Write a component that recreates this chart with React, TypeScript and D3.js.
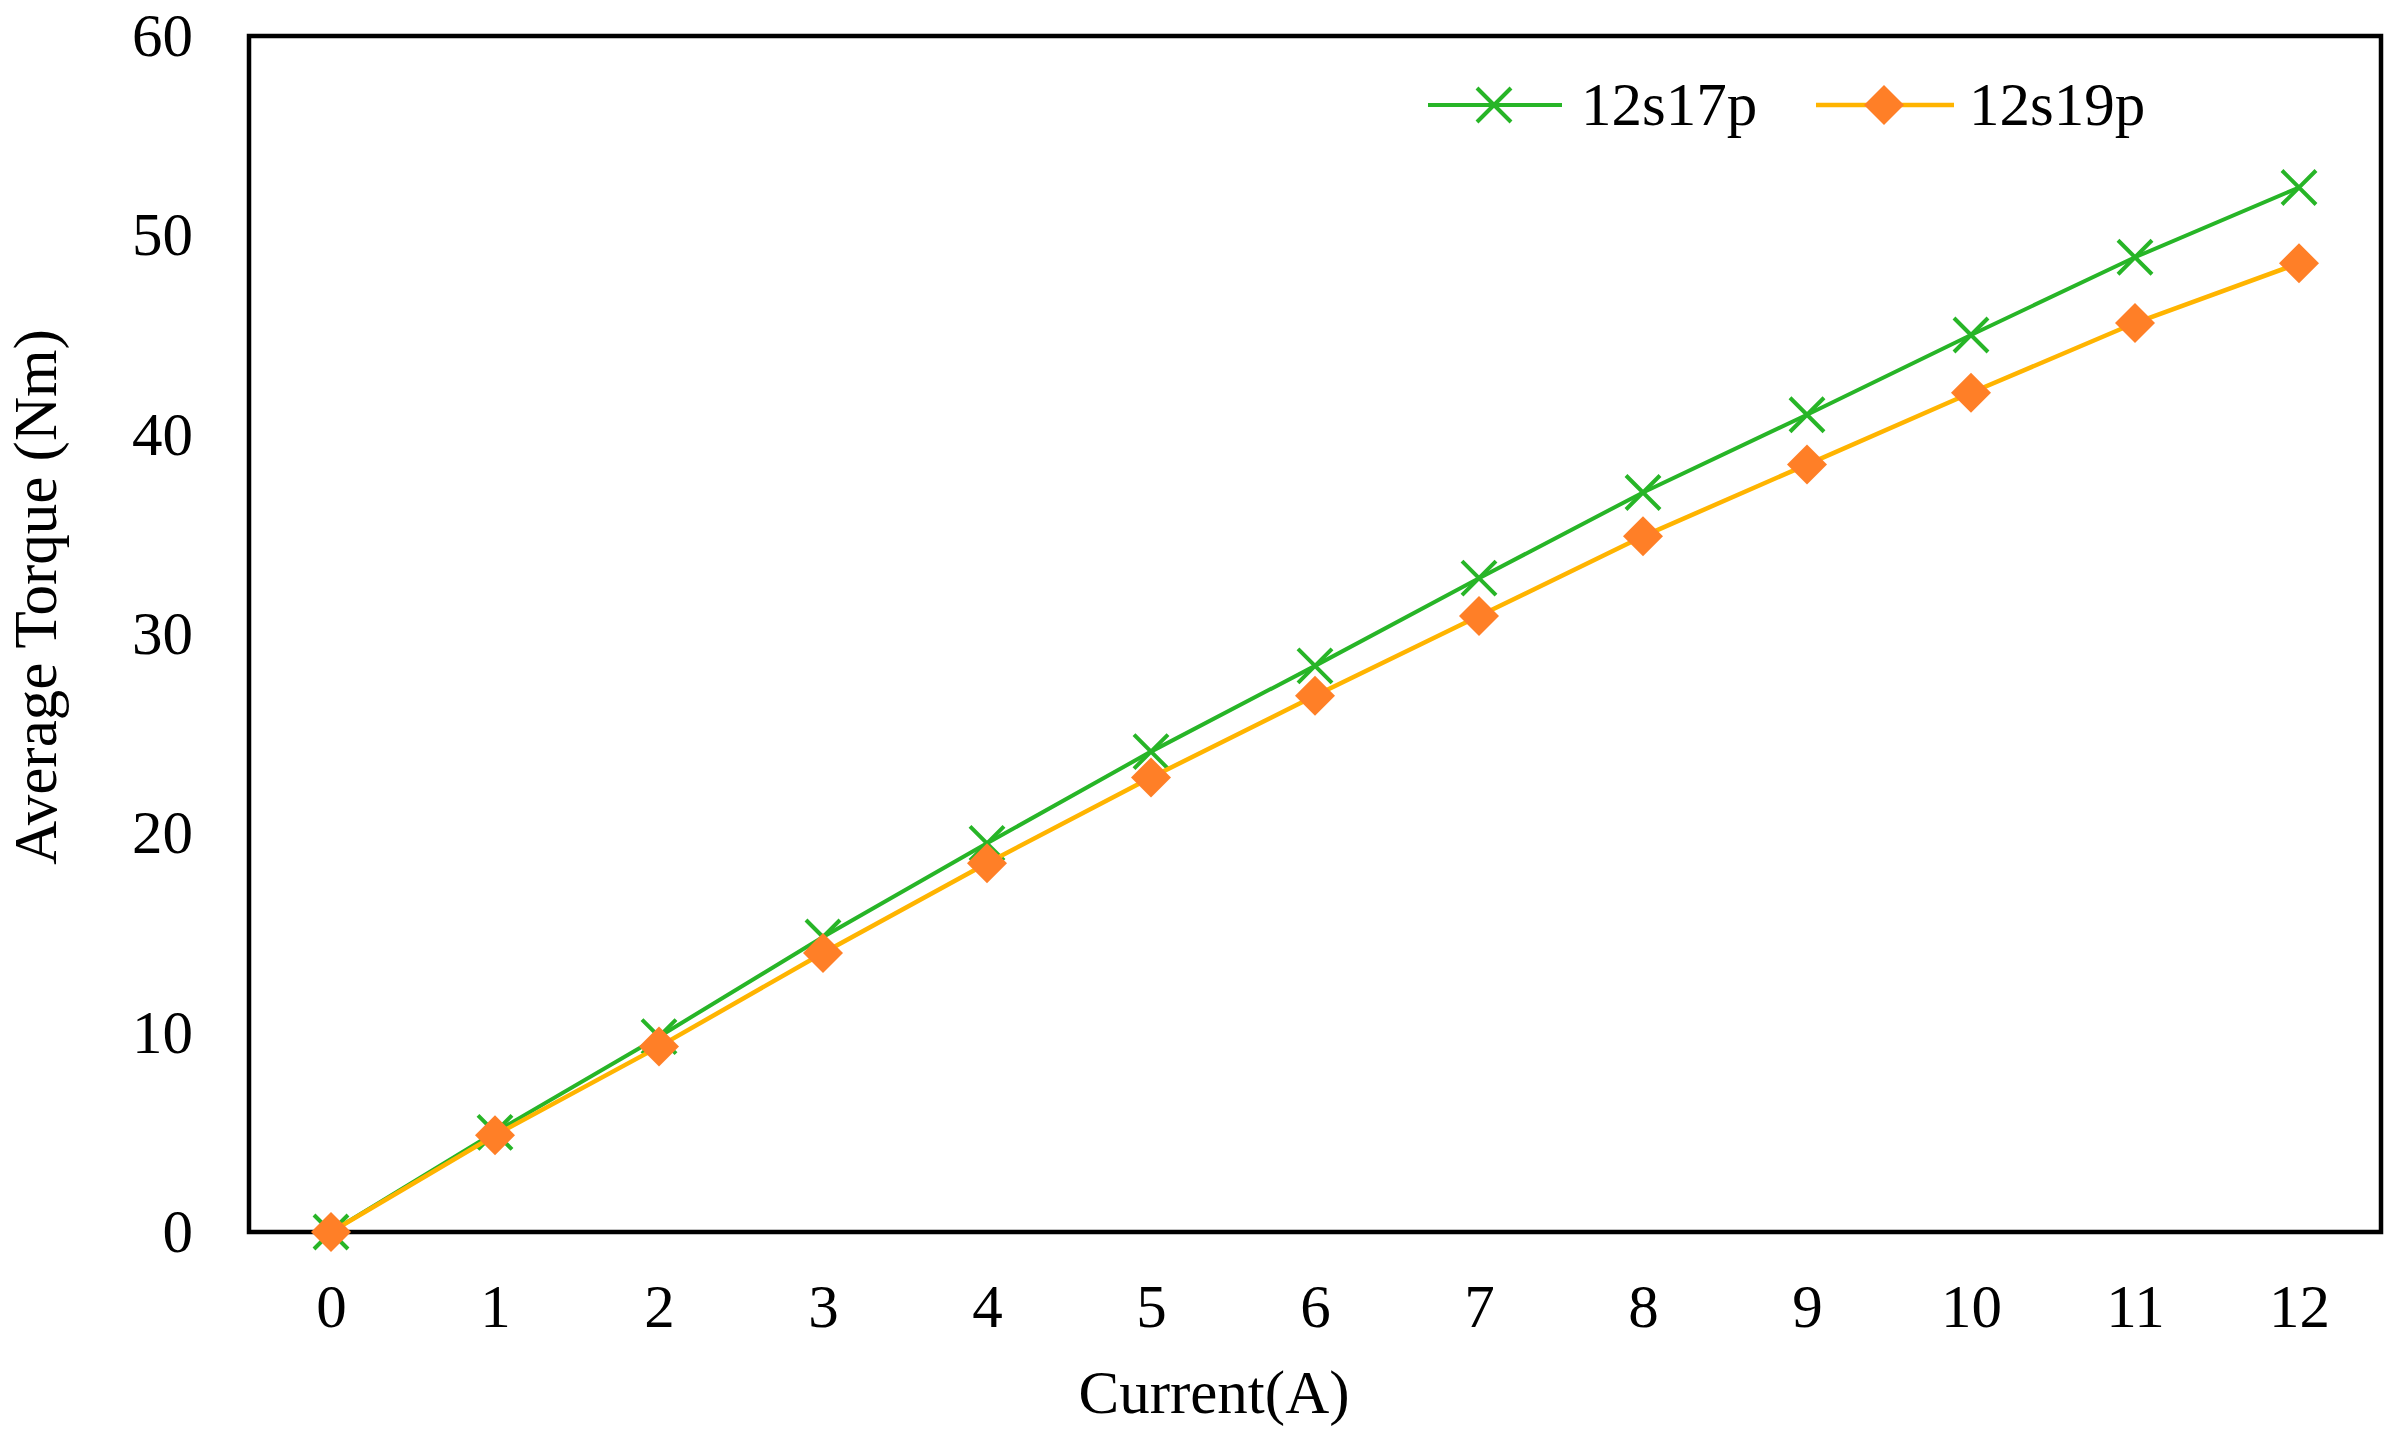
import * as d3 from "d3";
import { useRef, useEffect } from "react";

// Current (A) categories and average torque (Nm) per machine
const currents = ["0", "1", "2", "3", "4", "5", "6", "7", "8", "9", "10", "11", "12"];
const torque12s17p = [0, 5.0, 9.8, 14.8, 19.5, 24.1, 28.4, 32.8, 37.1, 41.0, 45.0, 48.9, 52.4];
const torque12s19p = [0, 4.85, 9.3, 14.0, 18.5, 22.8, 26.9, 30.9, 34.9, 38.5, 42.1, 45.6, 48.6];
const yTicks = [0, 10, 20, 30, 40, 50, 60];
const seriesNames = ["12s17p", "12s19p"];

const GREEN = "#27b527";
const GOLD = "#ffb400";
const ORANGE = "#ff7f27";
const FONT = "'Liberation Serif', 'Times New Roman', serif";

export default function App(): JSX.Element {
  const svgRef = useRef<SVGSVGElement>(null);

  useEffect(() => {
    if (!svgRef.current) return;
    const width = 2399;
    const height = 1439;
    const left = 249;
    const right = 2381;
    const top = 36;
    const bottom = 1232;

    const svg = d3.select(svgRef.current).attr("width", width).attr("height", height);
    svg.selectAll("*").remove();

    const x = d3.scalePoint<string>().domain(currents).range([left, right]).padding(0.5);
    const y = d3.scaleLinear().domain([0, 60]).range([bottom, top]);

    // y tick labels
    const yAxis = svg
      .append("g")
      .attr("transform", `translate(${left - 56},0)`)
      .call(d3.axisLeft(y).tickValues(yTicks).tickSize(0).tickPadding(0));
    yAxis.select(".domain").remove();
    yAxis
      .selectAll("text")
      .attr("fill", "#000")
      .style("font-family", FONT)
      .style("font-size", "61px");

    // x tick labels
    const xAxis = svg
      .append("g")
      .attr("transform", `translate(0,${bottom + 52})`)
      .call(d3.axisBottom(x).tickSize(0).tickPadding(0));
    xAxis.select(".domain").remove();
    xAxis
      .selectAll("text")
      .attr("fill", "#000")
      .style("font-family", FONT)
      .style("font-size", "61px");

    // plot frame
    svg
      .append("rect")
      .attr("x", left)
      .attr("y", top)
      .attr("width", right - left)
      .attr("height", bottom - top)
      .attr("fill", "none")
      .attr("stroke", "#000")
      .attr("stroke-width", 4.5);

    const line = d3
      .line<number>()
      .x((_, i) => x(currents[i]) as number)
      .y((d) => y(d));

    const cross = (g: any, cx: number, cy: number, r: number, color: string) => {
      g.append("path")
        .attr("d", `M${cx - r},${cy - r}L${cx + r},${cy + r}M${cx - r},${cy + r}L${cx + r},${cy - r}`)
        .attr("stroke", color)
        .attr("stroke-width", 4)
        .attr("fill", "none");
    };
    const diamond = (g: any, cx: number, cy: number, r: number, color: string) => {
      g.append("path")
        .attr("d", `M${cx},${cy - r}L${cx + r},${cy}L${cx},${cy + r}L${cx - r},${cy}Z`)
        .attr("fill", color);
    };

    // 12s17p
    const g1 = svg.append("g");
    g1.append("path").datum(torque12s17p).attr("d", line).attr("fill", "none").attr("stroke", GREEN).attr("stroke-width", 4);
    torque12s17p.forEach((v, i) => cross(g1, x(currents[i]) as number, y(v), 17, GREEN));

    // 12s19p
    const g2 = svg.append("g");
    g2.append("path").datum(torque12s19p).attr("d", line).attr("fill", "none").attr("stroke", GOLD).attr("stroke-width", 4.5);
    torque12s19p.forEach((v, i) => diamond(g2, x(currents[i]) as number, y(v), 20, ORANGE));

    // legend
    const legend = svg.append("g");
    legend.append("line").attr("x1", 1428).attr("x2", 1562).attr("y1", 105).attr("y2", 105).attr("stroke", GREEN).attr("stroke-width", 4);
    cross(legend, 1494, 105, 17, GREEN);
    legend.append("line").attr("x1", 1816).attr("x2", 1954).attr("y1", 105).attr("y2", 105).attr("stroke", GOLD).attr("stroke-width", 4.5);
    diamond(legend, 1884, 105, 20, ORANGE);
    legend
      .selectAll("text")
      .data(seriesNames)
      .join("text")
      .attr("x", (_, i) => (i === 0 ? 1581 : 1969))
      .attr("y", 125)
      .style("font-family", FONT)
      .style("font-size", "61px")
      .text((d) => d);

    // axis titles
    svg
      .append("text")
      .attr("x", 1214)
      .attr("y", 1413)
      .attr("text-anchor", "middle")
      .style("font-family", FONT)
      .style("font-size", "61px")
      .text("Current(A)");
    svg
      .append("text")
      .attr("transform", "translate(56,597) rotate(-90)")
      .attr("text-anchor", "middle")
      .style("font-family", FONT)
      .style("font-size", "61px")
      .text("Average Torque (Nm)");
  }, []);

  return <svg ref={svgRef} style={{ position: "absolute", left: 0, top: 0, background: "#fff" }} />;
}
